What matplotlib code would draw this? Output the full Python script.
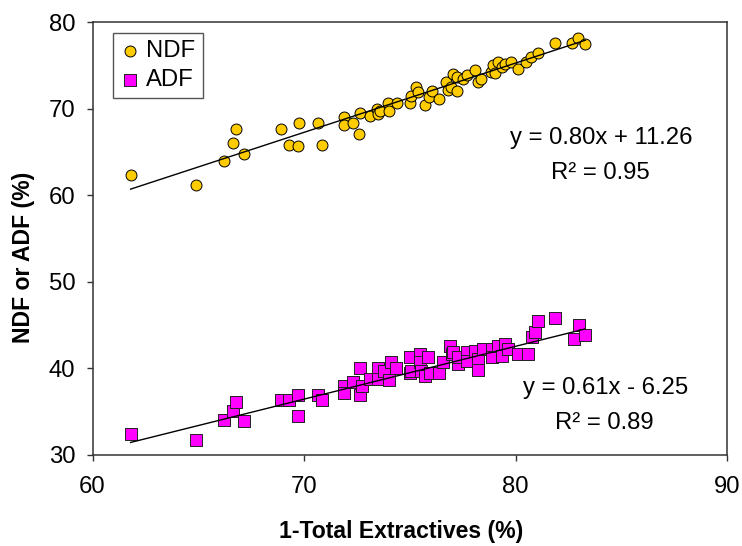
import numpy as np
import matplotlib.pyplot as plt

plt.rcParams['font.family'] = ['Liberation Sans', 'DejaVu Sans']

# 1-total extractives (%) vs. fibre content (%)
ndf_x = [61.8, 64.9, 66.2, 66.65, 66.76, 67.15, 68.9, 69.3, 69.7, 69.75,
         70.65, 70.87, 71.9, 71.9, 72.3, 72.6, 72.65, 73.1, 73.45, 73.5,
         73.6, 73.95, 74.0, 74.4, 75.0, 75.05, 75.3, 75.4, 75.7, 75.9,
         76.05, 76.4, 76.7, 76.8, 76.95, 77.05, 77.25, 77.25, 77.5, 77.7,
         78.07, 78.2, 78.36, 78.83, 78.95, 79.02, 79.18, 79.34, 79.5, 79.8,
         80.13, 80.5, 80.73, 81.08, 81.87, 82.67, 82.94, 83.3]
ndf_y = [62.3, 61.2, 63.9, 66.0, 67.6, 64.7, 67.6, 65.8, 65.7, 68.3,
         68.3, 65.8, 69.0, 68.1, 68.3, 67.1, 69.45, 69.2, 69.9, 69.35,
         69.7, 70.65, 69.7, 70.6, 70.6, 71.45, 72.5, 71.9, 70.4, 71.3,
         72.05, 71.1, 73.05, 72.1, 72.5, 74.0, 73.7, 72.0, 73.4, 73.9,
         74.5, 73.1, 73.4, 74.25, 75.0, 74.1, 75.4, 74.8, 75.2, 75.4,
         74.6, 75.4, 76.0, 76.4, 77.6, 77.6, 78.2, 77.45]

adf_x = [61.8, 64.9, 66.2, 66.65, 66.76, 67.15, 68.9, 69.3, 69.7, 69.7,
         70.65, 70.87, 71.9, 71.9, 72.3, 72.63, 72.63, 72.73, 73.1, 73.5,
         73.5, 73.8, 74.0, 74.1, 74.35, 75.0, 75.0, 75.07, 75.46, 75.46,
         75.54, 75.7, 75.86, 75.94, 76.4, 76.57, 76.89, 76.97, 77.05, 77.28,
         77.28, 77.68, 77.68, 78.07, 78.23, 78.23, 78.47, 78.87, 78.87, 79.18,
         79.34, 79.5, 79.66, 80.13, 80.6, 80.77, 80.92, 81.08, 81.87, 83.0,
         82.74, 83.26]
adf_y = [32.4, 31.7, 34.0, 35.1, 36.1, 33.9, 36.3, 36.3, 36.9, 34.5,
         36.9, 36.3, 38.0, 37.1, 38.4, 40.1, 36.9, 38.0, 38.8, 40.1,
         38.8, 39.7, 38.7, 40.7, 40.0, 41.3, 39.5, 39.7, 41.7, 40.7,
         39.7, 39.1, 41.3, 39.5, 39.5, 40.7, 42.6, 41.65, 41.85, 40.5,
         41.3, 41.85, 40.9, 42.0, 41.1, 39.8, 42.2, 42.2, 41.3, 42.6,
         41.45, 42.8, 42.2, 41.65, 41.65, 43.6, 44.2, 45.5, 45.8, 45.0,
         43.4, 43.8]

# linear fits (slope, intercept, r2)
ndf_fit = (0.80, 11.26, 0.95)
adf_fit = (0.61, -6.25, 0.89)

fig = plt.figure(figsize=(7.42, 5.46), dpi=100)
ax = fig.add_axes([0.1247, 0.1667, 0.8553, 0.793])

ax.scatter(ndf_x, ndf_y, s=62, marker='o', color='#FFCC00', edgecolor='black',
           linewidths=0.7, zorder=3, label='NDF')
ax.scatter(adf_x, adf_y, s=68, marker='s', color='#FF00FF', edgecolor='#222222',
           linewidths=0.7, zorder=3, label='ADF')

# trendlines across the data range
for xs, fit in ((ndf_x, ndf_fit), (adf_x, adf_fit)):
    x_line = np.array([min(xs), max(xs)])
    ax.plot(x_line, fit[0] * x_line + fit[1], color='black', lw=1.0, zorder=4)

fs = 17.2
ax.text(84.04, 66.6, f'y = {ndf_fit[0]:.2f}x + {ndf_fit[1]:.2f}', ha='center', va='center', fontsize=fs)
ax.text(84.0, 62.55, f'R² = {ndf_fit[2]:.2f}', ha='center', va='center', fontsize=fs)
ax.text(84.25, 37.75, f'y = {adf_fit[0]:.2f}x - {abs(adf_fit[1]):.2f}', ha='center', va='center', fontsize=fs)
ax.text(84.2, 33.7, f'R² = {adf_fit[2]:.2f}', ha='center', va='center', fontsize=fs)

ax.set_xlim(60, 90)
ax.set_ylim(30, 80)
ax.set_xticks([60, 70, 80, 90])
ax.set_yticks([30, 40, 50, 60, 70, 80])
ax.tick_params(direction='out', length=4.3, width=1.0, labelsize=fs, color='#333333')
ax.tick_params(axis='x', pad=11)
ax.tick_params(axis='y', pad=8)
for sp in ax.spines.values():
    sp.set_color('#333333')
    sp.set_linewidth(1.1)

fig.text(0.5404, 1 - 531.7 / 546, '1-Total Extractives (%)', ha='center', va='center',
         fontsize=16.6, fontweight='bold')
fig.text(24 / 742, 1 - 257.5 / 546, 'NDF or ADF (%)', ha='center', va='center',
         rotation=90, fontsize=16.6, fontweight='bold')

leg = ax.legend(loc='upper left', bbox_to_anchor=(0.032, 0.975), borderaxespad=0,
                fontsize=fs, fancybox=False, edgecolor='#555555', framealpha=1,
                handletextpad=0.3, borderpad=0.3, labelspacing=0.3, handlelength=0.8,
                scatterpoints=1)
leg.get_frame().set_linewidth(1.0)

fig.savefig('out.png', dpi=100)
